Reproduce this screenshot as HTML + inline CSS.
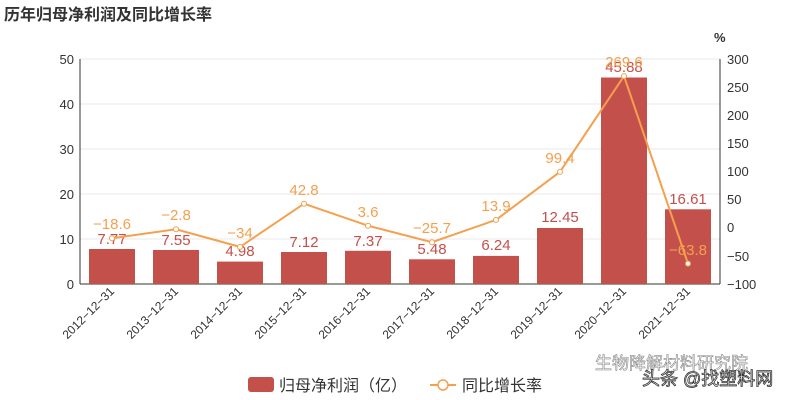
<!DOCTYPE html><html><head><meta charset="utf-8"><style>body{margin:0;background:#fff}svg{display:block;font-family:"Liberation Sans","Noto Sans CJK SC",sans-serif}</style></head><body>
<svg width="800" height="400" viewBox="0 0 800 400">
<text x="4" y="20" font-size="16" font-weight="bold" fill="#333">历年归母净利润及同比增长率</text>
<g stroke="#e8e8e8"><line x1="80" y1="59" x2="720" y2="59"/><line x1="80" y1="104" x2="720" y2="104"/><line x1="80" y1="149" x2="720" y2="149"/><line x1="80" y1="194" x2="720" y2="194"/><line x1="80" y1="239" x2="720" y2="239"/></g>
<g stroke="#333"><line x1="80" y1="59" x2="80" y2="284"/><line x1="720" y1="59" x2="720" y2="284"/><line x1="80" y1="284" x2="720" y2="284"/></g>
<g font-size="13" fill="#333" text-anchor="end"><text x="74" y="64">50</text><text x="74" y="109">40</text><text x="74" y="154">30</text><text x="74" y="199">20</text><text x="74" y="244">10</text><text x="74" y="289">0</text></g>
<g font-size="13" fill="#333"><text x="727" y="64">300</text><text x="727" y="92">250</text><text x="727" y="120">200</text><text x="727" y="148">150</text><text x="727" y="176">100</text><text x="727" y="204">50</text><text x="727" y="232">0</text><text x="727" y="261">−50</text><text x="727" y="289">−100</text><text x="714" y="42" font-weight="bold">%</text></g>
<g fill="#c4504c"><rect x="89" y="249" width="46" height="35"/><rect x="153" y="250" width="46" height="34"/><rect x="217" y="261.6" width="46" height="22.4"/><rect x="281" y="252" width="46" height="32"/><rect x="345" y="250.8" width="46" height="33.2"/><rect x="409" y="259.3" width="46" height="24.7"/><rect x="473" y="255.9" width="46" height="28.1"/><rect x="537" y="228" width="46" height="56"/><rect x="601" y="77.5" width="46" height="206.5"/><rect x="665" y="209.3" width="46" height="74.7"/></g>
<g font-size="15" fill="#c4504c" text-anchor="middle"><text x="112" y="244">7.77</text><text x="176" y="245">7.55</text><text x="240" y="256">4.98</text><text x="304" y="247">7.12</text><text x="368" y="246">7.37</text><text x="432" y="254">5.48</text><text x="496" y="250">6.24</text><text x="560" y="222">12.45</text><text x="624" y="72">45.88</text><text x="688" y="204">16.61</text></g>
<polyline fill="none" stroke="#f4a04e" stroke-width="2" points="112,238.2 176,229.3 240,246.9 304,203.7 368,225.7 432,242.2 496,219.9 560,171.8 624,76.1 688,263.6"/>
<g fill="#fff" stroke="#f4a04e"><circle cx="112" cy="238.2" r="2.5"/><circle cx="176" cy="229.3" r="2.5"/><circle cx="240" cy="246.9" r="2.5"/><circle cx="304" cy="203.7" r="2.5"/><circle cx="368" cy="225.7" r="2.5"/><circle cx="432" cy="242.2" r="2.5"/><circle cx="496" cy="219.9" r="2.5"/><circle cx="560" cy="171.8" r="2.5"/><circle cx="624" cy="76.1" r="2.5"/><circle cx="688" cy="263.6" r="2.5"/></g>
<g font-size="15" fill="#f4a04e" text-anchor="middle"><text x="112" y="229">−18.6</text><text x="176" y="220">−2.8</text><text x="240" y="238">−34</text><text x="304" y="195">42.8</text><text x="368" y="217">3.6</text><text x="432" y="233">−25.7</text><text x="496" y="211">13.9</text><text x="560" y="163">99.4</text><text x="624" y="67">269.6</text><text x="688" y="255">−63.8</text></g>
<g font-size="12" fill="#333" text-anchor="end">
<text transform="translate(115,292) rotate(-45)">2012−12−31</text><text transform="translate(179,292) rotate(-45)">2013−12−31</text><text transform="translate(243,292) rotate(-45)">2014−12−31</text><text transform="translate(307,292) rotate(-45)">2015−12−31</text><text transform="translate(371,292) rotate(-45)">2016−12−31</text><text transform="translate(435,292) rotate(-45)">2017−12−31</text><text transform="translate(499,292) rotate(-45)">2018−12−31</text><text transform="translate(563,292) rotate(-45)">2019−12−31</text><text transform="translate(627,292) rotate(-45)">2020−12−31</text><text transform="translate(691,292) rotate(-45)">2021−12−31</text></g>
<rect x="248" y="377" width="26" height="15" rx="3" fill="#c4504c"/>
<text x="279" y="391" font-size="16" fill="#333">归母净利润（亿）</text>
<line x1="430" y1="385" x2="456" y2="385" stroke="#f4a04e" stroke-width="2"/><circle cx="443" cy="385" r="5" fill="#fff" stroke="#f4a04e" stroke-width="1.5"/>
<text x="462" y="391" font-size="16" fill="#333">同比增长率</text>
<text x="595" y="369" font-size="17" fill="#fff" stroke="#888" stroke-width="0.6">生物降解材料研究院</text>
<text x="642" y="385" font-size="18" fill="#fff" stroke="#333" stroke-width="0.8">头条 @找塑料网</text>
</svg></body></html>
